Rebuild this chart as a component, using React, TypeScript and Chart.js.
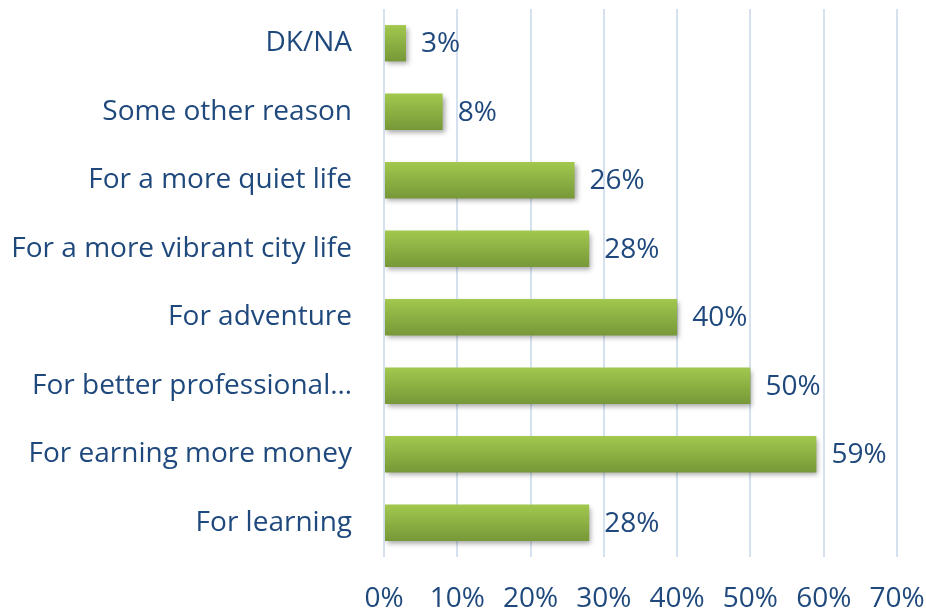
import React, { useEffect, useRef } from "react";
import { Chart, registerables } from "chart.js";

Chart.register(...registerables);

const categories = [
  "DK/NA",
  "Some other reason",
  "For a more quiet life",
  "For a more vibrant city life",
  "For adventure",
  "For better professional…",
  "For earning more money",
  "For learning",
];
const values = [3, 8, 26, 28, 40, 50, 59, 28];
const xTicks = [0, 10, 20, 30, 40, 50, 60, 70];

const FONT = "'Open Sans', Lato, sans-serif";
const FONT_SIZE = 28;
const TEXT_COLOR = "#1F497D";

const barStylePlugin = {
  id: "barStyle",
  beforeDatasetsDraw(chart: any) {
    const ctx = chart.ctx;
    const meta = chart.getDatasetMeta(0);
    meta.data.forEach((el: any) => {
      const top = el.y - el.height / 2;
      const bottom = el.y + el.height / 2;
      const g = ctx.createLinearGradient(0, top, 0, bottom);
      g.addColorStop(0, "#A2C84E");
      g.addColorStop(1, "#779838");
      el.options.backgroundColor = g;
    });
  },
  beforeDatasetDraw(chart: any) {
    const ctx = chart.ctx;
    ctx.save();
    ctx.shadowColor = "rgba(0,0,0,0.35)";
    ctx.shadowBlur = 5;
    ctx.shadowOffsetX = 2;
    ctx.shadowOffsetY = 3;
  },
  afterDatasetDraw(chart: any) {
    chart.ctx.restore();
  },
  afterDatasetsDraw(chart: any) {
    const ctx = chart.ctx;
    const meta = chart.getDatasetMeta(0);
    ctx.save();
    ctx.font = `${FONT_SIZE}px ${FONT}`;
    ctx.fillStyle = TEXT_COLOR;
    ctx.textAlign = "left";
    ctx.textBaseline = "middle";
    meta.data.forEach((el: any, i: number) => {
      ctx.fillText(values[i] + "%", el.x + 15, el.y + 1);
    });
    ctx.restore();
  },
};

export default function App() {
  const ref = useRef<HTMLCanvasElement>(null);
  useEffect(() => {
    document.body.style.margin = "0";
    const chart = new Chart(ref.current!, {
      type: "bar",
      data: {
        labels: categories,
        datasets: [
          {
            data: values,
            backgroundColor: () => "#8DB244",
            borderWidth: 0,
            barPercentage: 0.53,
            categoryPercentage: 1,
          },
        ],
      },
      plugins: [barStylePlugin],
      options: {
        indexAxis: "y",
        responsive: false,
        animation: false,
        layout: { padding: { left: 0, right: 29, top: 9, bottom: 0 } },
        plugins: { legend: { display: false }, tooltip: { enabled: false } },
        scales: {
          x: {
            min: 0,
            max: 70,
            afterBuildTicks: (s: any) => {
              s.ticks = xTicks.map((v) => ({ value: v }));
            },
            afterFit: (s: any) => {
              s.height = 54;
              s.paddingLeft = 0;
              s.paddingRight = 0;
            },
            ticks: {
              callback: (v: any) => v + "%",
              color: TEXT_COLOR,
              font: { family: FONT, size: FONT_SIZE },
              padding: 25,
              maxRotation: 0,
              autoSkip: false,
            },
            grid: { color: "#D6E1F0", lineWidth: 2, drawTicks: false },
            border: { display: false },
          },
          y: {
            afterFit: (s: any) => {
              s.width = 384;
              s.paddingTop = 0;
              s.paddingBottom = 0;
            },
            ticks: {
              color: TEXT_COLOR,
              font: { family: FONT, size: FONT_SIZE },
              padding: 32,
              autoSkip: false,
            },
            grid: { display: false, drawTicks: false },
            border: { display: false },
          },
        },
      },
    } as any);
    return () => chart.destroy();
  }, []);
  return (
    <div style={{ width: 926, height: 611 }}>
      <canvas ref={ref} width={926} height={611} />
    </div>
  );
}
